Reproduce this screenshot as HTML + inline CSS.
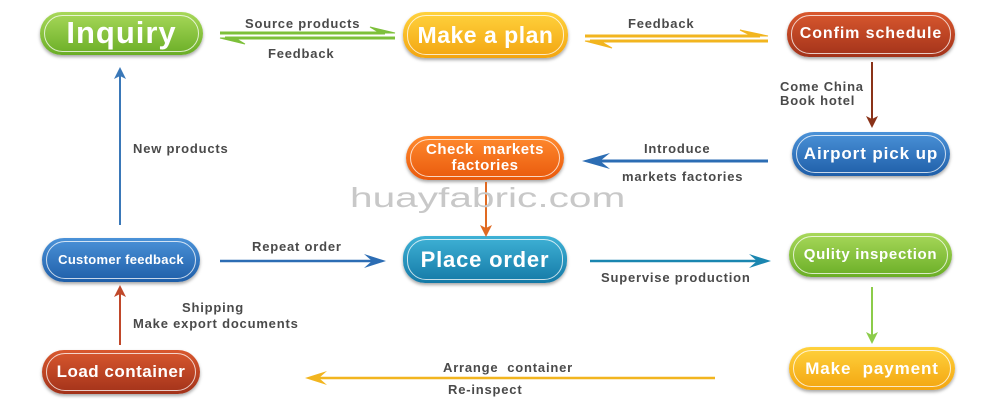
<!DOCTYPE html>
<html><head><style>
body{margin:0;width:990px;height:400px;background:#fff;position:relative;overflow:hidden;font-family:"Liberation Sans",Arial,sans-serif}
.n{position:absolute;border-radius:22px;color:#fff;font-weight:bold;display:flex;align-items:center;justify-content:center;text-align:center;box-shadow:0 2px 3px rgba(0,0,0,.35);line-height:1.05;letter-spacing:.5px;white-space:nowrap}
.n:after{content:"";position:absolute;left:4px;right:4px;top:3px;bottom:3px;border:1.5px solid rgba(255,255,255,.75);border-radius:19px}
.t{position:absolute;font-size:13px;font-weight:bold;color:#4a4a4a;white-space:nowrap;letter-spacing:.8px}
</style></head><body>
<div class="n" style="left:40px;top:12px;width:163px;height:43px;font-size:31px;letter-spacing:1px;background:linear-gradient(#a8d85a,#6aae26)">Inquiry</div>
<div class="n" style="left:403px;top:12px;width:165px;height:46px;font-size:23px;background:linear-gradient(#ffd23d,#f3a510)">Make a plan</div>
<div class="n" style="left:787px;top:12px;width:168px;height:45px;font-size:16px;letter-spacing:.9px;background:linear-gradient(#d9582e,#a2321a)">Confim schedule</div>
<div class="n" style="left:792px;top:132px;width:158px;height:44px;font-size:17px;letter-spacing:.9px;background:linear-gradient(#4b92d8,#1f5ea8)">Airport pick up</div>
<div class="n" style="left:406px;top:136px;width:158px;height:44px;font-size:15px;background:linear-gradient(#ff8a2e,#e9590c)">Check&nbsp; markets<br>factories</div>
<div class="n" style="left:42px;top:238px;width:158px;height:44px;font-size:13px;letter-spacing:.3px;background:linear-gradient(#4b92d8,#1f5ea8)">Customer feedback</div>
<div class="n" style="left:403px;top:236px;width:164px;height:47px;font-size:22px;letter-spacing:.8px;background:linear-gradient(#3fb2d6,#1479a6)">Place order</div>
<div class="n" style="left:789px;top:233px;width:163px;height:44px;font-size:15px;letter-spacing:.7px;background:linear-gradient(#a8d85a,#6aae26)">Qulity inspection</div>
<div class="n" style="left:789px;top:347px;width:166px;height:43px;font-size:17px;letter-spacing:.9px;background:linear-gradient(#ffd23d,#f3a510)">Make&nbsp; payment</div>
<div class="n" style="left:42px;top:350px;width:158px;height:44px;font-size:17px;background:linear-gradient(#d9582e,#a2321a)">Load container</div>
<svg width="990" height="400" style="position:absolute;left:0;top:0">
<g fill="none" stroke-width="3">
<line x1="220" y1="33" x2="385" y2="33" stroke="#7dc03a"/><polygon points="395,33 370,27 380,33" fill="#7dc03a" stroke="#7dc03a" stroke-width="1"/>
<line x1="225" y1="38" x2="395" y2="38" stroke="#7dc03a"/><polygon points="220,38 245,44 235,38" fill="#7dc03a" stroke="#7dc03a" stroke-width="1"/>
<line x1="585" y1="36" x2="760" y2="36" stroke="#f2b51f"/><polygon points="768,36 740,30 752,36" fill="#f2b51f" stroke="#f2b51f" stroke-width="1"/>
<line x1="590" y1="41" x2="768" y2="41" stroke="#f2b51f"/><polygon points="585,41 612,48 600,41" fill="#f2b51f" stroke="#f2b51f" stroke-width="1"/>
<line x1="872" y1="62" x2="872" y2="120" stroke="#8a3218" stroke-width="2"/><polygon points="872,128 866,116 872,119 878,116" fill="#8a3218"/>
<line x1="768" y1="161" x2="595" y2="161" stroke="#2c6db4"/><polygon points="582,161 610,153 600,161 610,169" fill="#2c6db4"/>
<line x1="486" y1="182" x2="486" y2="228" stroke="#e06a22" stroke-width="2"/><polygon points="486,237 480,225 486,228 492,225" fill="#e06a22"/>
<line x1="220" y1="261" x2="375" y2="261" stroke="#2c6db4" stroke-width="2.5"/><polygon points="386,261 364,254 372,261 364,268" fill="#2c6db4"/>
<line x1="590" y1="261" x2="760" y2="261" stroke="#1a86b0" stroke-width="2.5"/><polygon points="771,261 749,254 757,261 749,268" fill="#1a86b0"/>
<line x1="872" y1="287" x2="872" y2="336" stroke="#8ccc4a" stroke-width="2"/><polygon points="872,344 866,332 872,335 878,332" fill="#8ccc4a"/>
<line x1="715" y1="378" x2="318" y2="378" stroke="#f2b51f" stroke-width="2.5"/><polygon points="305,378 327,371 319,378 327,385" fill="#f2b51f"/>
<line x1="120" y1="345" x2="120" y2="294" stroke="#c0482a" stroke-width="2"/><polygon points="120,285 114,297 120,294 126,297" fill="#c0482a"/>
<line x1="120" y1="225" x2="120" y2="76" stroke="#3a78b8" stroke-width="2"/><polygon points="120,67 114,79 120,76 126,79" fill="#3a78b8"/>
</g></svg>
<div class="t" style="left:245px;top:16px">Source products</div>
<div class="t" style="left:268px;top:46px">Feedback</div>
<div class="t" style="left:628px;top:16px">Feedback</div>
<div class="t" style="left:780px;top:80px;line-height:14px">Come China<br>Book hotel</div>
<div class="t" style="left:644px;top:141px">Introduce</div>
<div class="t" style="left:622px;top:169px">markets factories</div>
<div class="t" style="left:133px;top:141px">New products</div>
<div class="t" style="left:252px;top:239px">Repeat order</div>
<div class="t" style="left:601px;top:270px">Supervise production</div>
<div class="t" style="left:182px;top:300px">Shipping</div>
<div class="t" style="left:133px;top:316px">Make export documents</div>
<div class="t" style="left:443px;top:360px">Arrange&nbsp; container</div>
<div class="t" style="left:448px;top:382px">Re-inspect</div>
<div style="position:absolute;left:350px;top:182px;font-size:28px;color:#c8c8c8;transform:scaleX(1.45);transform-origin:left">huayfabric.com</div>
</body></html>
